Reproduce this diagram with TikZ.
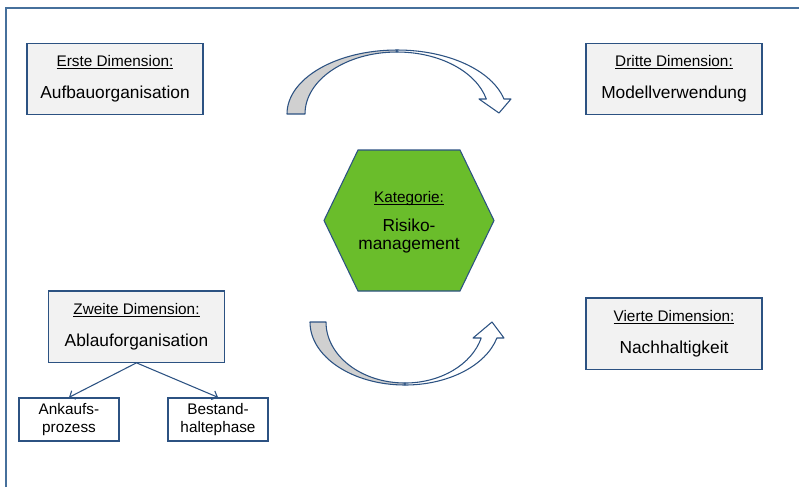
\documentclass[tikz,border=0pt]{standalone}
\usepackage{fontspec}
\setmainfont{Liberation Sans}
\usepackage{tikz}
\usetikzlibrary{arrows.meta}
\definecolor{dimblue}{RGB}{44,82,130}
\definecolor{frameblue}{RGB}{70,112,156}
\definecolor{dimgrey}{RGB}{242,242,242}
\definecolor{riskgreen}{RGB}{106,189,43}
\definecolor{backgrey}{RGB}{208,208,208}
\newcommand{\undl}[1]{\setbox0\hbox{#1}\rlap{\rule[-1.7pt]{\wd0}{0.55pt}}\box0}
\newcommand{\hdsize}{\fontsize{11.5}{13.2}\selectfont}
\newcommand{\bdsize}{\fontsize{13}{14.5}\selectfont}

\begin{document}
\begin{tikzpicture}[x=0.75pt, y=-0.75pt,
                    every node/.style={font=\hdsize, align=center},
                    dimbox/.style={draw=dimblue, fill=dimgrey, line width=1pt,
                                   minimum width=132pt, minimum height=53.5pt, inner sep=0pt},
                    subbox/.style={draw=dimblue, fill=white, line width=1pt,
                                   minimum width=75pt, minimum height=32.25pt, inner sep=0pt},
                    conn/.style={draw=dimblue, line width=0.8pt,
                                 -{Straight Barb[length=3.5pt,width=7pt]}},
                    curvearrow/.style={draw=dimblue, line width=0.8pt, line join=round}]
  \useasboundingbox (0,0) rectangle (799,487);
  \draw[frameblue, line width=1.2pt] (6,487) -- (6,8) -- (799,8);

  \node[dimbox] (erste)  at (115,79)     {\undl{Erste Dimension:}\\[11pt]\bdsize Aufbauorganisation};
  \node[dimbox] (dritte) at (674,79)     {\undl{Dritte Dimension:}\\[11pt]\bdsize Modellverwendung};
  \node[dimbox] (zweite) at (136.5,326.5) {\undl{Zweite Dimension:}\\[10.5pt]\bdsize Ablauforganisation};
  \node[dimbox] (vierte) at (674,333.5)  {\undl{Vierte Dimension:}\\[10.5pt]\bdsize Nachhaltigkeit};
  \node[subbox] (ankauf)  at (69,419.5)  {Ankaufs-\\prozess};
  \node[subbox] (bestand) at (218,419.5) {Bestand-\\haltephase};
  \draw[conn] (zweite.south) -- (ankauf.north);
  \draw[conn] (zweite.south) -- (bestand.north);

  \draw[draw=dimblue, fill=riskgreen, line width=0.8pt]
    (358,150) -- (460,150) -- (494,220.5) -- (460,291) -- (358,291) -- (324,220.5) -- cycle;
  \node (risiko) at (409,222) {\undl{Kategorie:}\\[9pt]\bdsize Risiko-\\\bdsize management};

  \coordinate (topc) at (397,114);
  \filldraw[curvearrow, fill=backgrey] (topc) ++(180:82.5pt and 48pt)
    arc[start angle=180, end angle=90, x radius=82.5pt, y radius=48pt] -- ++(0,2)
    arc[start angle=90, end angle=180, x radius=69pt, y radius=46.5pt] -- cycle;
  \filldraw[curvearrow, fill=white] (topc) ++(90:82.5pt and 48pt)
    arc[start angle=90, end angle=13.55, x radius=82.5pt, y radius=48pt]
    -- (511,99) -- (499,113) -- (479,99) -- (486.3,99)
    arc[start angle=14, end angle=90, x radius=69pt, y radius=46.5pt] -- cycle;

  \coordinate (botc) at (405,322);
  \filldraw[curvearrow, fill=backgrey] (botc) ++(180:71.25pt and 47.25pt)
    arc[start angle=180, end angle=270, x radius=71.25pt, y radius=47.25pt] -- ++(0,-2)
    arc[start angle=270, end angle=180, x radius=59.25pt, y radius=45.75pt] -- cycle;
  \filldraw[curvearrow, fill=white] (botc) ++(270:71.25pt and 47.25pt)
    arc[start angle=270, end angle=345.3, x radius=71.25pt, y radius=47.25pt]
    -- (504,338) -- (492,322) -- (473,338) -- (481.2,338)
    arc[start angle=344.8, end angle=270, x radius=59.25pt, y radius=45.75pt] -- cycle;
\end{tikzpicture}
\end{document}
